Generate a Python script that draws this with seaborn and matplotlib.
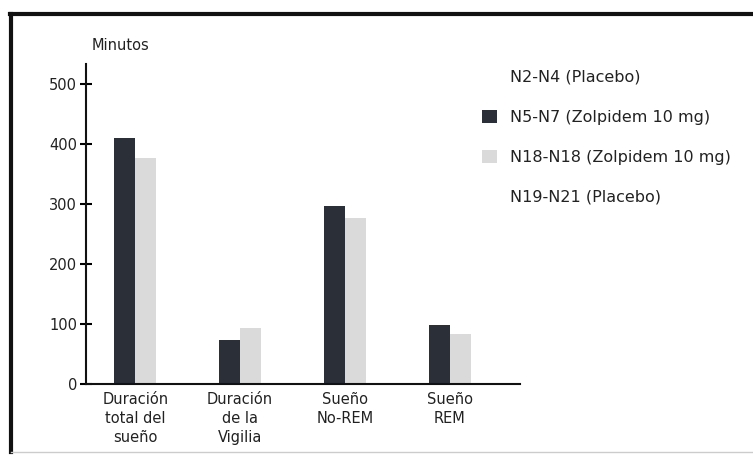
import matplotlib
matplotlib.use("Agg")
import matplotlib.pyplot as plt
from matplotlib.patches import Patch
from matplotlib.lines import Line2D
import seaborn as sns
import pandas as pd

categories = ["Duración\ntotal del\nsueño", "Duración\nde la\nVigilia", "Sueño\nNo-REM", "Sueño\nREM"]
series = ["N2-N4 (Placebo)", "N5-N7 (Zolpidem 10 mg)", "N18-N18 (Zolpidem 10 mg)", "N19-N21 (Placebo)"]
placebo_1 = [395, 150, 285, 95]
zolpidem_1 = [410, 74, 297, 98]
zolpidem_2 = [377, 94, 276, 84]
placebo_2 = [390, 140, 280, 90]
yticks = [0, 100, 200, 300, 400, 500]
colors = ["#ffffff", "#2b3038", "#dadada", "#ffffff"]

rows = []
for s, vals in zip(series, [placebo_1, zolpidem_1, zolpidem_2, placebo_2]):
    for c, v in zip(categories, vals):
        rows.append({"cat": c, "val": v, "serie": s})
df = pd.DataFrame(rows)

plt.rcParams['font.family'] = ['DejaVu Sans']
W, H = 753, 455
fig = plt.figure(figsize=(W / 100, H / 100), dpi=100)
fig.patch.set_facecolor("white")

ax = fig.add_axes([86 / W, 1 - 384 / H, (520 - 86) / W, (384 - 64) / H])
sns.barplot(data=df, x="cat", y="val", hue="serie", hue_order=series,
            order=categories, palette=colors, saturation=1, ax=ax,
            legend=False, edgecolor="none", errorbar=None)
ax.set_xlim(-0.47, 3.67)
ax.set_ylim(0, 320 / 0.6)
ax.set_yticks(yticks)
ax.set_yticklabels([str(t) for t in yticks], fontsize=10.5, color="#222222")
ax.set_xlabel("")
ax.set_ylabel("")
for lab in ax.get_xticklabels():
    lab.set_fontsize(10.5)
    lab.set_linespacing(1.3)
    lab.set_color("#222222")
for sp in ["top", "right"]:
    ax.spines[sp].set_visible(False)
for sp in ["left", "bottom"]:
    ax.spines[sp].set_linewidth(1.5)
    ax.spines[sp].set_color("#111111")
ax.tick_params(axis="y", direction="inout", length=9, width=1.5, pad=2)
ax.tick_params(axis="x", length=0, pad=6)
ax.set_facecolor("none")

fig.text(92 / W, 1 - 46 / H, "Minutos", fontsize=10.5, color="#222222", va="center", ha="left")

handles = [Patch(facecolor=c, edgecolor="none") for c in colors]
fig.legend(handles, series, loc="upper left", bbox_to_anchor=(482 / W, 1 - 70 / H),
           frameon=False, fontsize=11.5, labelspacing=1.56, handlelength=0.95,
           handleheight=0.85, handletextpad=0.8, borderaxespad=0, borderpad=0,
           labelcolor="#222222")

# outer frame
fig.add_artist(Line2D([10 / W, 1.0], [1 - 14 / H, 1 - 14 / H], color="#111111", lw=3, transform=fig.transFigure))
fig.add_artist(Line2D([11 / W, 11 / W], [1 - 14 / H, 1 - 452 / H], color="#111111", lw=3, transform=fig.transFigure))
fig.add_artist(Line2D([11 / W, 1.0], [1 - 452 / H, 1 - 452 / H], color="#cccccc", lw=1, transform=fig.transFigure))

fig.savefig("out.png", dpi=100)
